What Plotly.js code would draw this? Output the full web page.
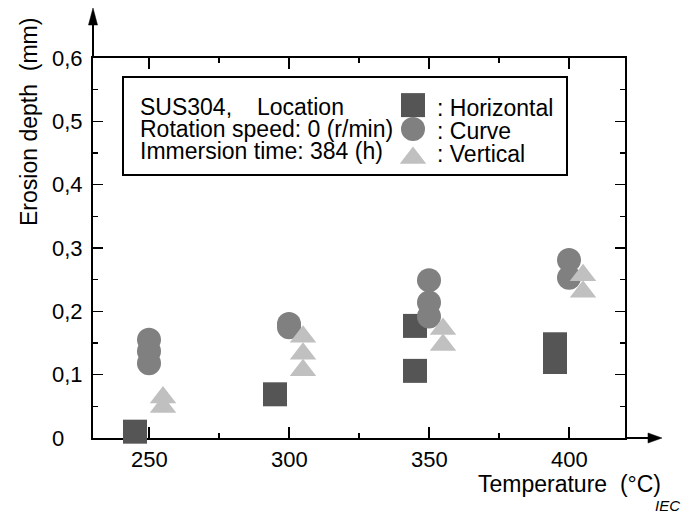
<!DOCTYPE html>
<html>
<head>
<meta charset="utf-8">
<script src="https://cdn.plot.ly/plotly-3.0.1.min.js"></script>
<style>html,body{margin:0;padding:0;background:#fff;}#chart{width:683px;height:514px;}</style>
</head>
<body>
<div id="chart"></div>
<script>
// ---- data ----
var horizontalTemp = [245, 295, 345, 345, 395, 395];
var horizontalDepth = [0.010, 0.069, 0.177, 0.106, 0.148, 0.120];
var curveTemp = [250, 250, 250, 300, 300, 350, 350, 350, 400, 400];
var curveDepth = [0.155, 0.137, 0.118, 0.180, 0.175, 0.249, 0.214, 0.192, 0.281, 0.253];
var verticalTemp = [255, 255, 305, 305, 305, 355, 355, 405, 405];
var verticalDepth = [0.064, 0.049, 0.160, 0.133, 0.107, 0.172, 0.147, 0.257, 0.231];

var xTickVals = [250, 300, 350, 400];
var xTickText = ["250", "300", "350", "400"];
var yTickVals = [0, 0.1, 0.2, 0.3, 0.4, 0.5, 0.6];
var yTickText = ["0\u00a0\u00a0\u00a0", "0,1", "0,2", "0,3", "0,4", "0,5", "0,6"];

var seriesNames = ["Horizontal", "Curve", "Vertical"];
var infoLines = ["SUS304,", "Rotation speed: 0 (r/min)", "Immersion time: 384 (h)"];

// ---- styles ----
var FONT = "Liberation Sans, Arial, sans-serif";
var colors = ["#555555", "#808080", "#c0c0c0"];
var symbols = ["square", "circle", "triangle-up"];
var sizes = [24, 24, 23];

function pts(x, y, i) {
  return {
    type: "scatter", mode: "markers", x: x, y: y, name: seriesNames[i],
    cliponaxis: false, hoverinfo: "skip",
    marker: {symbol: symbols[i], size: sizes[i], color: colors[i], line: {width: 0}}
  };
}

var traces = [
  pts(horizontalTemp, horizontalDepth, 0),
  pts(curveTemp, curveDepth, 1),
  pts(verticalTemp, verticalDepth, 2)
];

// legend keys on hidden overlay axes (0..1 == plot area)
var keyY = [0.876, 0.813, 0.737];
for (var i = 0; i < 3; i++) {
  traces.push({
    type: "scatter", mode: "markers", x: [0.6015], y: [keyY[i]], xaxis: "x2", yaxis: "y2",
    cliponaxis: false, hoverinfo: "skip",
    marker: {symbol: symbols[i], size: sizes[i], color: colors[i], line: {width: 0}}
  });
}

var ann = [];
function txt(t, x, y, xa, extra) {
  var a = {text: t, xref: "paper", yref: "paper", x: x, y: y, xanchor: xa, yanchor: "middle",
    showarrow: false, font: {family: FONT, size: 23, color: "#000"}};
  for (var k in (extra || {})) a[k] = extra[k];
  ann.push(a);
}
var infoY = [0.871, 0.813, 0.755];
txt(infoLines[0], 0.0846, infoY[0], "left");
txt("Location", 0.305, infoY[0], "left");
txt(infoLines[1], 0.0846, infoY[1], "left");
txt(infoLines[2], 0.0846, infoY[2], "left");
var keyTextY = [0.868, 0.807, 0.747];
for (var j = 0; j < 3; j++) txt(": " + seriesNames[j], 0.643, keyTextY[j], "left");

// x tick labels placed through the x scale
for (var t = 0; t < xTickVals.length; t++) {
  ann.push({text: xTickText[t], xref: "x", yref: "paper", x: xTickVals[t], y: -0.0553,
    xanchor: "center", yanchor: "middle", showarrow: false,
    font: {family: FONT, size: 22, color: "#000"}});
}

txt("Erosion depth\u00a0\u00a0(mm)", -0.1203, 0.8316, "center", {textangle: -90});
txt("Temperature\u00a0\u00a0(°C)", 1.0714, -0.121, "right");
txt("IEC", 1.107, -0.177, "right", {font: {family: FONT, size: 15, color: "#000"}, text: "<i>IEC</i>"});

var axisCommon = {
  showline: true, linecolor: "#000", linewidth: 2, mirror: "ticks",
  ticks: "inside", tickcolor: "#000", tickwidth: 1.5,
  showgrid: false, zeroline: false, layer: "below traces",
  tickfont: {family: FONT, size: 22, color: "#000"}, tickmode: "array"
};

var xaxis = Object.assign({}, axisCommon, {
  range: [230, 420], tickvals: xTickVals, ticktext: xTickText, ticklen: 11, showticklabels: false,
  minor: {tickmode: "linear", tick0: 0, dtick: 25, ticks: "inside", ticklen: 5, tickcolor: "#000", tickwidth: 1.5}
});
var yaxis = Object.assign({}, axisCommon, {
  range: [0, 0.6], tickvals: yTickVals, ticktext: yTickText, ticklen: 10, ticklabelstandoff: 4,
  minor: {tickmode: "linear", tick0: 0, dtick: 0.05, ticks: "inside", ticklen: 5, tickcolor: "#000", tickwidth: 1.5}
});

var shapes = [
  // info box
  {type: "rect", xref: "paper", yref: "paper", x0: (123 - 93) / 532, x1: (567 - 93) / 532,
   y0: (438 - 175) / 380, y1: (438 - 77) / 380, line: {color: "#000", width: 2}, fillcolor: "rgba(0,0,0,0)"},
  // y axis arrow
  {type: "line", xref: "paper", yref: "paper", x0: 0, x1: 0, y0: 1, y1: 1.09, line: {color: "#000", width: 2}},
  {type: "path", xref: "paper", yref: "paper", path: "M-0.0085,1.0868 L0.0085,1.0868 L0,1.1316 Z",
   fillcolor: "#000", line: {color: "#000", width: 0.5}},
  // x axis arrow
  {type: "line", xref: "paper", yref: "paper", x0: 1, x1: 1.045, y0: 0, y1: 0, line: {color: "#000", width: 2}},
  {type: "path", xref: "paper", yref: "paper", path: "M1.0432,-0.0132 L1.0432,0.0132 L1.0695,0 Z",
   fillcolor: "#000", line: {color: "#000", width: 0.5}}
];

var layout = {
  width: 683, height: 514,
  margin: {l: 93, r: 58, t: 58, b: 76},
  paper_bgcolor: "#fff", plot_bgcolor: "#fff",
  showlegend: false,
  font: {family: FONT, color: "#000"},
  xaxis: xaxis, yaxis: yaxis,
  xaxis2: {overlaying: "x", range: [0, 1], visible: false, anchor: "y2"},
  yaxis2: {overlaying: "y", range: [0, 1], visible: false, anchor: "x2"},
  annotations: ann, shapes: shapes
};

Plotly.newPlot("chart", traces, layout, {staticPlot: true});
</script>
</body>
</html>
